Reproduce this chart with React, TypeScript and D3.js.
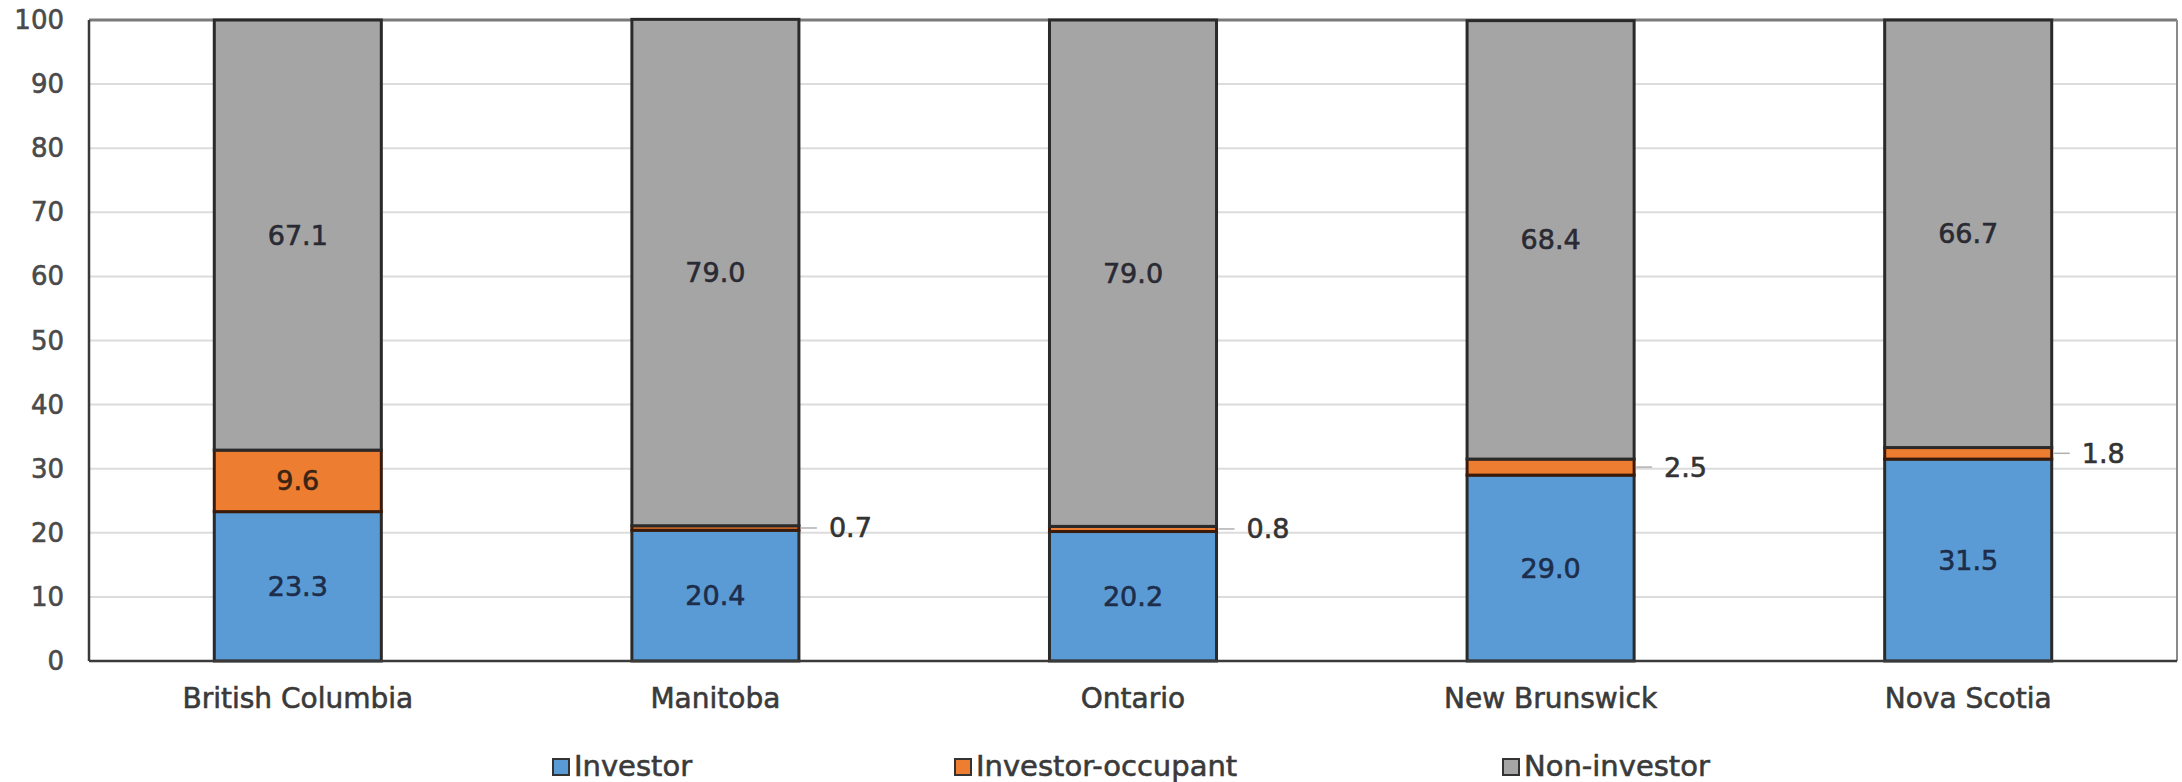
import React from "react";
import * as d3 from "d3";

// Share of property owners by type, per province (%)
const provinces = ["British Columbia", "Manitoba", "Ontario", "New Brunswick", "Nova Scotia"];
const seriesNames = ["Investor", "Investor-occupant", "Non-investor"];
const investor = [23.3, 20.4, 20.2, 29.0, 31.5];
const investorOccupant = [9.6, 0.7, 0.8, 2.5, 1.8];
const nonInvestor = [67.1, 79.0, 79.0, 68.4, 66.7];
const yTicks = [0, 10, 20, 30, 40, 50, 60, 70, 80, 90, 100];

const colors = ["#5B9BD5", "#ED7D31", "#A5A5A5"];
const labelColors = ["#1d2d4a", "#3a2414", "#2a2a33"];

const W = 2182;
const H = 782;
const plot = { left: 89, right: 2177, top: 20, bottom: 661 };
const FONT = "'DejaVu Sans', Verdana, sans-serif";

// a thin outline thickens the glyphs a little
const heavy = (c: string) => ({ fill: c, stroke: c, strokeWidth: 0.6 });

export default function App() {
  const x = d3
    .scaleBand<string>()
    .domain(provinces)
    .range([plot.left, plot.right])
    .paddingInner(0.6)
    .paddingOuter(0.3);
  const y = d3.scaleLinear().domain([0, 100]).range([plot.bottom, plot.top]);

  const rows = provinces.map((p, i) => ({
    province: p,
    Investor: investor[i],
    "Investor-occupant": investorOccupant[i],
    "Non-investor": nonInvestor[i],
  }));
  const stacked = d3.stack<any>().keys(seriesNames)(rows);

  const legendX = [553, 955, 1503];

  return (
    <svg
      width={W}
      height={H}
      style={{ position: "absolute", left: 0, top: 0, background: "#fff" }}
      fontFamily={FONT}
    >
      {/* gridlines */}
      {yTicks.map((t) => (
        <line
          key={"g" + t}
          x1={plot.left}
          x2={plot.right}
          y1={y(t)}
          y2={y(t)}
          stroke="#dcdcdc"
          strokeWidth={2}
        />
      ))}
      {/* plot frame */}
      <line x1={plot.left} x2={plot.right} y1={plot.top} y2={plot.top} stroke="#7a7a7a" strokeWidth={3} />
      <line x1={plot.right} x2={plot.right} y1={plot.top} y2={plot.bottom} stroke="#8a8a8a" strokeWidth={2} />

      {/* stacked bars */}
      {stacked.map((layer, si) => (
        <g key={layer.key}>
          {layer.map((d, i) => (
            <rect
              key={i}
              x={x(provinces[i])!}
              y={y(d[1])}
              width={x.bandwidth()}
              height={y(d[0]) - y(d[1])}
              fill={colors[si]}
              stroke={si === 1 ? "#3a1a0a" : "#2a2a2a"}
              strokeWidth={3}
            />
          ))}
        </g>
      ))}

      {/* value labels */}
      {stacked.map((layer, si) =>
        layer.map((d, i) => {
          const v = d[1] - d[0];
          const cx = x(provinces[i])! + x.bandwidth() / 2;
          const cy = (y(d[0]) + y(d[1])) / 2;
          const inside = y(d[0]) - y(d[1]) > 30;
          if (inside) {
            return (
              <text
                key={`l${si}-${i}`}
                x={cx}
                y={cy}
                textAnchor="middle"
                dominantBaseline="central"
                fontSize={27}
                {...heavy(labelColors[si])}
              >
                {v.toFixed(1)}
              </text>
            );
          }
          const bx = x(provinces[i])! + x.bandwidth();
          return (
            <g key={`l${si}-${i}`}>
              <line x1={bx + 2} x2={bx + 18} y1={cy} y2={cy} stroke="#b0b0b0" strokeWidth={1.5} />
              <text
                x={bx + 30}
                y={cy}
                dominantBaseline="central"
                fontSize={27}
                {...heavy("#333")}
              >
                {v.toFixed(1)}
              </text>
            </g>
          );
        })
      )}

      {/* axes lines */}
      <line x1={plot.left} x2={plot.left} y1={plot.top} y2={plot.bottom} stroke="#3a3a3a" strokeWidth={2.5} />
      <line x1={plot.left} x2={plot.right} y1={plot.bottom} y2={plot.bottom} stroke="#3a3a3a" strokeWidth={2.5} />

      {/* y tick labels */}
      {yTicks.map((t) => (
        <text
          key={"t" + t}
          x={64}
          y={y(t)}
          textAnchor="end"
          dominantBaseline="central"
          fontSize={26}
          {...heavy("#4a4a4a")}
        >
          {t}
        </text>
      ))}

      {/* category labels */}
      {provinces.map((p) => (
        <text
          key={p}
          x={x(p)! + x.bandwidth() / 2}
          y={698}
          textAnchor="middle"
          dominantBaseline="central"
          fontSize={28}
          {...heavy("#3a3a3a")}
        >
          {p}
        </text>
      ))}

      {/* legend */}
      {seriesNames.map((s, i) => (
        <g key={s}>
          <rect
            x={legendX[i]}
            y={759}
            width={16}
            height={16}
            fill={colors[i]}
            stroke="#333"
            strokeWidth={2}
          />
          <text
            x={legendX[i] + 21}
            y={766}
            dominantBaseline="central"
            fontSize={29}
            {...heavy("#3a3a3a")}
          >
            {s}
          </text>
        </g>
      ))}
    </svg>
  );
}
